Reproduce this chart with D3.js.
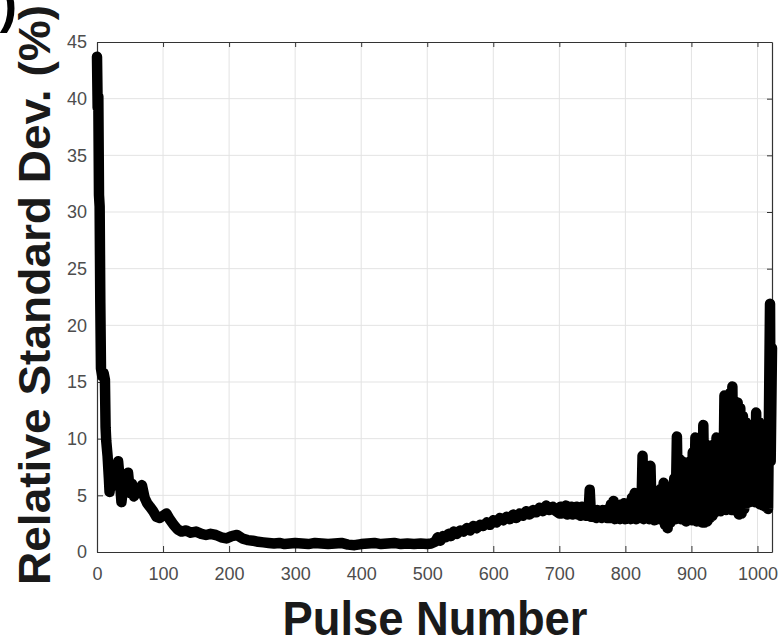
<!DOCTYPE html>
<html>
<head>
<meta charset="utf-8">
<title>Relative Standard Dev.</title>
<script src="https://cdn.jsdelivr.net/npm/d3@7"></script>
<style>
body { margin: 0; background: #fff; }
svg { display: block; font-family: "Liberation Sans", Arial, sans-serif; }
.tick text { fill: #4d4d4d; font-size: 18px; }
.grid line { stroke: #e3e3e3; stroke-width: 1; }
</style>
</head>
<body>
<svg id="main" width="783" height="644"></svg>
<script>
// TICKS
var xTicks = [0, 100, 200, 300, 400, 500, 600, 700, 800, 900, 1000];
var yTicks = [0, 5, 10, 15, 20, 25, 30, 35, 40, 45];

// DATA
// steep fall over the first ~250 pulses
var decayPulses = [0, 1, 2, 3, 4, 5, 6, 8, 10, 12, 13, 14, 16, 18, 19, 21, 23, 26, 29, 32,
  35, 37, 40, 43, 47, 50, 53, 56, 60, 64, 68, 72, 76, 80, 85, 90, 95, 100, 105, 110,
  116, 122, 128, 135, 142, 150, 158, 165, 172, 180, 188, 196, 204, 212, 220, 228, 236, 244];
var decayRsd = [43.7, 39.2, 40.2, 31.5, 30.5, 22, 16.2, 15.5, 15.8, 15.2, 11, 9.8, 8.5, 6.5, 5.3, 6.5, 5.8, 7.5, 6.5, 8.0,
  6.0, 4.4, 6.0, 5.5, 7.0, 5.2, 6.0, 4.9, 5.5, 5.2, 5.9, 4.8, 4.3, 4.0, 3.6, 3.1, 3.0, 3.2, 3.4, 2.9,
  2.4, 2.0, 1.8, 1.9, 1.7, 1.8, 1.6, 1.5, 1.6, 1.5, 1.3, 1.2, 1.4, 1.5, 1.2, 1.05, 1.0, 0.9];

// flat bottom
var flatPulses = [252, 260, 268, 276, 284, 292, 300, 310, 320, 330, 340, 350, 360, 370, 380, 390, 400,
  410, 420, 430, 440, 450, 460, 470, 480, 490, 500, 506];
var flatRsd = [0.85, 0.8, 0.75, 0.8, 0.7, 0.75, 0.8, 0.75, 0.7, 0.8, 0.75, 0.7, 0.75, 0.8, 0.65, 0.6, 0.7,
  0.75, 0.8, 0.7, 0.75, 0.8, 0.7, 0.75, 0.7, 0.75, 0.7, 0.75];

// slow rise
var risePulses = [512, 516, 520, 524, 528, 532, 536, 540, 545, 550, 555, 560, 565, 570, 575, 580, 585, 590, 595,
  600, 605, 610, 615, 620, 625, 630, 635, 640, 645, 650, 655, 660, 665, 670, 675, 680, 685, 690, 695];
var riseRsd = [0.9, 1.3, 1.0, 1.4, 1.3, 1.6, 1.4, 1.8, 1.6, 1.9, 1.8, 2.1, 1.9, 2.3, 2.1, 2.4, 2.3, 2.6, 2.4,
  2.8, 2.6, 3.0, 2.8, 3.1, 2.9, 3.3, 3.0, 3.4, 3.2, 3.6, 3.3, 3.7, 3.5, 3.9, 3.6, 4.1, 3.7, 4.0, 3.6];

// noisy tail
var noisyPulses = [700, 702, 704, 706, 708, 710, 712, 714, 716, 718, 720, 722, 724, 726, 728, 730, 732, 734, 736, 738,
  740, 742, 744, 746, 748, 750, 752, 754, 756, 758, 760, 762, 764, 766, 768, 770, 772, 774, 776, 778,
  780, 782, 784, 786, 788, 790, 792, 794, 796, 798, 800, 802, 804, 806, 808, 810, 812, 814, 816, 818,
  820, 822, 824, 826, 828, 830, 832, 834, 836, 838, 840, 842, 844, 846, 848, 850, 852, 854, 856, 858,
  860, 862, 864, 866, 868, 870, 872, 874, 876, 878, 880, 882, 884, 886, 888, 890, 892, 894, 896, 898,
  900, 902, 904, 906, 908, 910, 912, 914, 916, 918, 920, 922, 924, 926, 928, 930, 932, 934, 936, 938,
  940, 942, 944, 946, 948, 950, 952, 954, 956, 958, 960, 962, 964, 966, 968, 970, 972, 974, 976, 978,
  980, 982, 984, 986, 988, 990, 992, 994, 996, 998, 1000, 1002, 1004, 1006, 1008, 1010, 1012, 1014, 1016, 1019,
  1020, 1022];
var noisyRsd = [3.4, 4.0, 3.4, 3.9, 3.5, 4.1, 3.3, 3.9, 3.4, 4.0, 3.3, 3.8, 3.4, 4.0, 3.3, 3.9, 3.2, 4.0, 3.3, 3.8,
  3.2, 3.9, 3.2, 5.5, 3.1, 3.7, 3.1, 3.6, 3.0, 3.7, 3.1, 3.6, 3.0, 3.7, 3.1, 3.7, 3.0, 3.8, 3.0, 4.2,
  3.0, 4.5, 2.9, 3.9, 3.0, 3.8, 2.9, 4.2, 3.0, 4.3, 2.9, 3.9, 3.0, 3.8, 2.9, 4.8, 3.0, 5.2, 2.9, 5.0,
  3.0, 5.0, 3.0, 8.5, 2.9, 7.4, 3.0, 7.3, 2.9, 7.6, 3.0, 5.3, 2.8, 5.4, 3.0, 5.0, 2.9, 5.6, 2.8, 6.1,
  2.4, 5.5, 2.1, 5.4, 2.6, 5.0, 3.0, 6.5, 2.9, 10.2, 3.0, 8.2, 2.9, 8.0, 3.0, 7.9, 2.7, 6.2, 3.0, 8.0,
  2.8, 8.8, 2.8, 10.1, 2.7, 8.6, 2.8, 8.6, 2.6, 11.2, 2.6, 9.5, 2.7, 8.7, 3.0, 8.0, 3.2, 9.5, 3.5, 10.1,
  3.7, 9.3, 3.6, 10.0, 3.8, 13.8, 3.7, 13.5, 3.8, 14.0, 3.7, 14.6, 3.8, 13.3, 3.6, 13.2, 3.3, 12.7, 3.4, 12.0,
  3.8, 11.5, 4.3, 11.0, 4.4, 11.2, 4.5, 10.8, 4.4, 12.3, 4.5, 11.5, 4.2, 11.0, 4.1, 10.8, 4.0, 11.2, 3.8, 21.9,
  8.0, 18.0];

var pulses = decayPulses.concat(flatPulses, risePulses, noisyPulses);
var rsd = decayRsd.concat(flatRsd, riseRsd, noisyRsd);
var points = pulses.map(function(p, i) { return [p, rsd[i]]; });

// CANVAS
var svg = d3.select("#main");
var plotLeft = 97, plotRight = 772, plotTop = 42, plotBottom = 552;

var x = d3.scaleLinear().domain([0, 1022]).range([plotLeft, plotRight]);
var y = d3.scaleLinear().domain([0, 45]).range([plotBottom, plotTop]);

// grid
var grid = svg.append("g").attr("class", "grid");
grid.selectAll(".gx").data(xTicks.slice(1)).enter().append("line")
    .attr("x1", function(d) { return x(d); })
    .attr("x2", function(d) { return x(d); })
    .attr("y1", plotTop)
    .attr("y2", plotBottom);
grid.selectAll(".gy").data(yTicks.slice(1, -1)).enter().append("line")
    .attr("x1", plotLeft)
    .attr("x2", plotRight)
    .attr("y1", function(d) { return y(d); })
    .attr("y2", function(d) { return y(d); });

// axes, box style with inward ticks
function styleAxis(g) {
    g.select(".domain").attr("stroke", "#333").attr("stroke-width", 1.2);
    g.selectAll(".tick line").attr("stroke", "#333");
}
var plain = function(d) { return String(d); };
svg.append("g").attr("transform", "translate(0," + plotBottom + ")")
    .call(d3.axisBottom(x).tickValues(xTicks).tickFormat(plain).tickSize(-6).tickSizeOuter(0).tickPadding(15))
    .call(styleAxis)
    .selectAll("text").attr("font-size", 18).attr("font-family", null);
svg.append("g").attr("transform", "translate(" + plotLeft + ",0)")
    .call(d3.axisLeft(y).tickValues(yTicks).tickFormat(plain).tickSize(-6).tickSizeOuter(0).tickPadding(10))
    .call(styleAxis)
    .selectAll("text").attr("font-size", 18).attr("font-family", null);
svg.append("g").attr("transform", "translate(0," + plotTop + ")")
    .call(d3.axisTop(x).tickValues(xTicks).tickSize(-5).tickSizeOuter(0).tickFormat(""))
    .call(styleAxis);
svg.append("g").attr("transform", "translate(" + plotRight + ",0)")
    .call(d3.axisRight(y).tickValues(yTicks).tickSize(-5).tickSizeOuter(0).tickFormat(""))
    .call(styleAxis);

// THE CURVE
var line = d3.line()
    .x(function(d) { return x(d[0]); })
    .y(function(d) { return y(d[1]); });
svg.append("path")
    .datum(points)
    .attr("d", line)
    .attr("fill", "none")
    .attr("stroke", "#000")
    .attr("stroke-width", 10.5)
    .attr("stroke-linejoin", "round")
    .attr("stroke-linecap", "round");

// LABELS
svg.append("text")
    .attr("x", 435)
    .attr("y", 635)
    .attr("text-anchor", "middle")
    .attr("font-size", 49)
    .attr("font-weight", "bold")
    .attr("fill", "#1a1a1a")
    .attr("textLength", 305)
    .attr("lengthAdjust", "spacingAndGlyphs")
    .text("Pulse Number");

svg.append("text")
    .attr("transform", "translate(50,295) rotate(-90)")
    .attr("text-anchor", "middle")
    .attr("font-size", 45)
    .attr("font-weight", "bold")
    .attr("fill", "#1a1a1a")
    .attr("textLength", 580)
    .attr("lengthAdjust", "spacingAndGlyphs")
    .text("Relative Standard Dev. (%)");

// cut-off panel letter in the corner
svg.append("text")
    .attr("x", 17)
    .attr("y", 22)
    .attr("text-anchor", "end")
    .attr("font-size", 52)
    .attr("font-weight", "bold")
    .attr("fill", "#000")
    .text(")");
</script>
</body>
</html>
